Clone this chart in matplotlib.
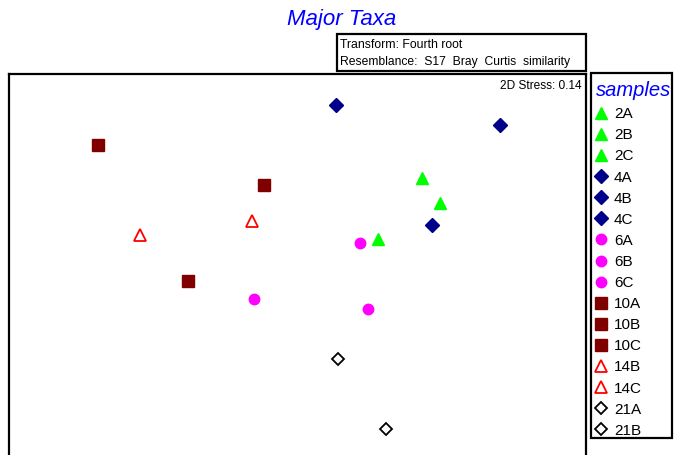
import matplotlib.pyplot as plt
from matplotlib.lines import Line2D
from matplotlib.patches import Rectangle

plt.rcParams['font.family'] = ['Liberation Sans', 'DejaVu Sans']

# nMDS ordination coordinates for each sample
samples = ['2A', '2B', '2C', '4A', '4B', '4C', '6A', '6B', '6C',
           '10A', '10B', '10C', '14B', '14C', '21A', '21B']
mds_x = [0.62, 0.71, 0.40, 0.19, 1.01, 0.67, 0.31, -0.22, 0.35,
         -1.00, -0.17, -0.55, -0.79, -0.23, 0.20, 0.44]
mds_y = [0.435, 0.31, 0.13, 0.80, 0.70, 0.20, 0.11, -0.17, -0.22,
         0.60, 0.40, -0.08, 0.15, 0.22, -0.47, -0.82]
stress = 0.14

# marker style per sampling group (prefix of the sample name)
group_style = {
    '2':  dict(marker='^', mfc='#00ff00', mec='#00ff00', ms=9),
    '4':  dict(marker='D', mfc='#00008b', mec='#00008b', ms=7.5),
    '6':  dict(marker='o', mfc='#ff00ff', mec='#ff00ff', ms=7.5),
    '10': dict(marker='s', mfc='#800000', mec='#800000', ms=8),
    '14': dict(marker='^', mfc='none', mec='#ff0000', ms=8, mew=1.3),
    '21': dict(marker='D', mfc='none', mec='black', ms=6.5, mew=1.3),
}

W, H = 674, 455
fig = plt.figure(figsize=(W / 100, H / 100), dpi=100)

def fx(px):
    return px / W

def fy(py):
    return 1 - py / H

def frame(x0, y0, x1, y1):
    # black outline box given in pixel corners (top-left, bottom-right)
    fig.patches.append(Rectangle((fx(x0), fy(y1)), fx(x1) - fx(x0), fy(y0) - fy(y1),
                                 transform=fig.transFigure, fill=False,
                                 edgecolor='black', linewidth=1.6))

ax = fig.add_axes([fx(9), fy(470), fx(586) - fx(9), fy(74) - fy(470)])
ax.set_xlim(-1.4425, 1.4425)
ax.set_ylim(-1.025, 0.955)
ax.set_xticks([])
ax.set_yticks([])
for sp in ax.spines.values():
    sp.set_linewidth(1.6)
    sp.set_color('black')

handles = []
for name, x, y in zip(samples, mds_x, mds_y):
    st = group_style[name[:-1]]
    ax.plot([x], [y], linestyle='none', **st)
    handles.append(Line2D([], [], linestyle='none', label=name, **st))

ax.text(0.9925, 0.97, f'2D Stress: {stress}', transform=ax.transAxes,
        ha='right', va='center', fontsize=8.6)

fig.text(fx(342), fy(20), 'Major Taxa', ha='center', va='center',
         fontsize=16, style='italic', color='#0000ff')

# box with transform / resemblance info
frame(337, 34, 586, 71)
fig.text(fx(340), fy(45), 'Transform: Fourth root', ha='left', va='center', fontsize=8.8)
fig.text(fx(340), fy(62), 'Resemblance:  S17  Bray  Curtis  similarity',
         ha='left', va='center', fontsize=8.7)

# legend in a fixed strip right of the plot
frame(591, 73, 672, 438)
leg_box = (fx(591), fy(76.5), fx(672) - fx(591), 0)
leg = fig.legend(handles=handles, loc='upper left', mode='expand',
                 bbox_to_anchor=leg_box, borderaxespad=0,
                 title='samples', fontsize=11, frameon=False,
                 handlelength=0.75, handletextpad=0.45,
                 labelspacing=0.465, borderpad=0.3, alignment='left')
leg.get_title().set_fontsize(14.5)
leg.get_title().set_style('italic')
leg.get_title().set_color('#0000ff')

fig.savefig('out.png', dpi=100)
